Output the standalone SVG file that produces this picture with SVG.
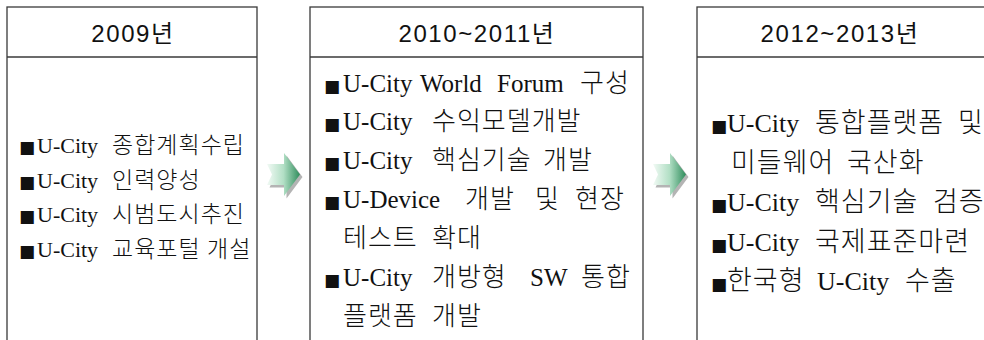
<svg xmlns="http://www.w3.org/2000/svg" width="984" height="340" viewBox="0 0 984 340">
<style>
.box{fill:#fff;stroke:#3a3a3a;stroke-width:1.3}
.hdr{font-family:"Liberation Sans","Noto Sans CJK KR",sans-serif;font-size:24px;font-weight:400;letter-spacing:1.6px;fill:#111;text-anchor:middle}
.t{font-family:"Liberation Serif","Times New Roman",serif;font-weight:400;fill:#111}
.k{font-family:"Noto Sans CJK KR",sans-serif;font-weight:300;letter-spacing:1px}
.b{font-family:"DejaVu Sans",sans-serif}
.s1{font-size:22px}
.s1 .k{font-size:23px}
.s2{font-size:25px}
.s2 .k{font-size:26px}
.s3{font-size:26px}
.s3 .k{font-size:27px}
.s1 .b,.s2 .b,.s3 .b{font-size:17px}
</style>
<defs>
<linearGradient id="ag" x1="0" y1="0" x2="1" y2="0">
<stop offset="0" stop-color="#f2faf5"/>
<stop offset="0.5" stop-color="#b2dfc5"/>
<stop offset="1" stop-color="#2f8d5c"/>
</linearGradient>
<path id="arr" d="M0,11 L17,11 L17,0 L33,21.5 L17,43 L17,32 L0,32 L5,21.5 Z"/>
</defs>

<g id="stage1">
<rect class="box" x="7" y="7" width="250" height="345"/>
<line class="box" x1="7" y1="57" x2="257" y2="57"/>
<text class="hdr" x="133" y="42">2009년</text>
<text class="t s1" y="153"><tspan class="b" x="19">■</tspan><tspan x="37">U-City</tspan><tspan class="k" x="112">종합계획수립</tspan></text>
<text class="t s1" y="188"><tspan class="b" x="19">■</tspan><tspan x="37">U-City</tspan><tspan class="k" x="112">인력양성</tspan></text>
<text class="t s1" y="222"><tspan class="b" x="19">■</tspan><tspan x="37">U-City</tspan><tspan class="k" x="112">시범도시추진</tspan></text>
<text class="t s1" y="257"><tspan class="b" x="19">■</tspan><tspan x="37">U-City</tspan><tspan class="k" x="112">교육포털</tspan><tspan class="k" x="207">개설</tspan></text>
</g>

<g id="stage2">
<rect class="box" x="310" y="7" width="333" height="345"/>
<line class="box" x1="310" y1="57" x2="643" y2="57"/>
<text class="hdr" x="477" y="42">2010~2011년</text>
<text class="t s2" y="91.5"><tspan class="b" x="324">■</tspan><tspan x="343">U-City</tspan><tspan x="420">World</tspan><tspan x="497">Forum</tspan><tspan class="k" x="580">구성</tspan></text>
<text class="t s2" y="130"><tspan class="b" x="324">■</tspan><tspan x="343">U-City</tspan><tspan class="k" x="432">수익모델개발</tspan></text>
<text class="t s2" y="169"><tspan class="b" x="324">■</tspan><tspan x="343">U-City</tspan><tspan class="k" x="432">핵심기술</tspan><tspan class="k" x="543">개발</tspan></text>
<text class="t s2" y="208"><tspan class="b" x="324">■</tspan><tspan x="343">U-Device</tspan><tspan class="k" x="465">개발</tspan><tspan class="k" x="535">및</tspan><tspan class="k" x="575">현장</tspan></text>
<text class="t s2" y="247"><tspan class="k" x="343">테스트</tspan><tspan class="k" x="432">확대</tspan></text>
<text class="t s2" y="286"><tspan class="b" x="324">■</tspan><tspan x="343">U-City</tspan><tspan class="k" x="432">개방형</tspan><tspan x="530">SW</tspan><tspan class="k" x="581">통합</tspan></text>
<text class="t s2" y="325"><tspan class="k" x="343">플랫폼</tspan><tspan class="k" x="432">개발</tspan></text>
</g>

<g id="stage3">
<rect class="box" x="697" y="7" width="300" height="345"/>
<line class="box" x1="697" y1="57" x2="997" y2="57"/>
<text class="hdr" x="840" y="42">2012~2013년</text>
<text class="t s3" y="132"><tspan class="b" x="711">■</tspan><tspan x="727">U-City</tspan><tspan class="k" x="815">통합플랫폼</tspan><tspan class="k" x="958">및</tspan></text>
<text class="t s3" y="172"><tspan class="k" x="731">미들웨어</tspan><tspan class="k" x="847">국산화</tspan></text>
<text class="t s3" y="211"><tspan class="b" x="711">■</tspan><tspan x="727">U-City</tspan><tspan class="k" x="815">핵심기술</tspan><tspan class="k" x="933">검증</tspan></text>
<text class="t s3" y="251"><tspan class="b" x="711">■</tspan><tspan x="727">U-City</tspan><tspan class="k" x="815">국제표준마련</tspan></text>
<text class="t s3" y="290"><tspan class="b" x="711">■</tspan><tspan class="k" x="727">한국형</tspan><tspan x="817">U-City</tspan><tspan class="k" x="905">수출</tspan></text>
</g>

<g id="connectors">
<g transform="translate(267,153)">
<use href="#arr" transform="translate(2.5,2.5)" fill="#b4b4b4"/>
<use href="#arr" fill="url(#ag)"/>
</g>
<g transform="translate(653,153)">
<use href="#arr" transform="translate(2.5,2.5)" fill="#b4b4b4"/>
<use href="#arr" fill="url(#ag)"/>
</g>
</g>
</svg>
